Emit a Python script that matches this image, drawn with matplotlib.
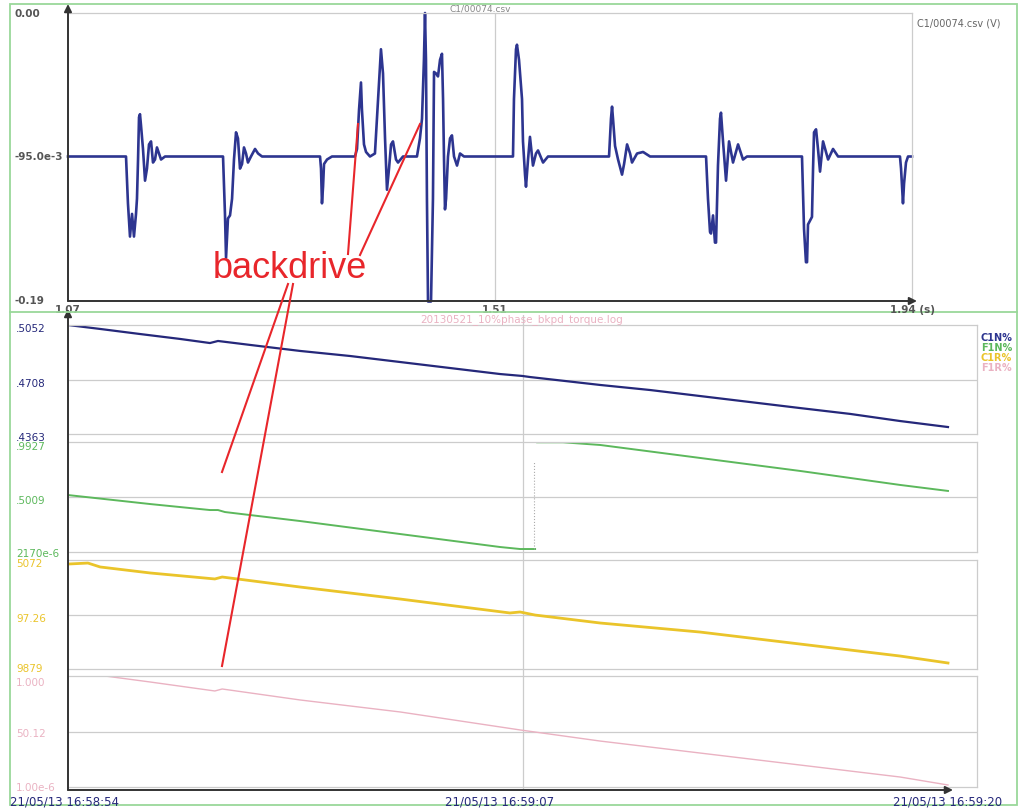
""" scope capture: backdrive on C1 with logged N% channels """

import matplotlib
matplotlib.use('Agg')
import matplotlib.pyplot as plt
from matplotlib import transforms
from matplotlib.lines import Line2D
from matplotlib.patches import Rectangle, FancyArrowPatch

# ---- top panel: C1/00074.csv (V) vs time (s) ----
sig_t = [1.0700,
         1.1298, 1.1318, 1.1339, 1.1360, 1.1380, 1.1401, 1.1411, 1.1422, 1.1432, 1.1442, 1.1452,
         1.1473, 1.1494, 1.1514, 1.1535, 1.1556, 1.1576, 1.1597, 1.1617, 1.1638, 1.1659, 1.1700,
         1.2298, 1.2318, 1.2329, 1.2349, 1.2370, 1.2391, 1.2411, 1.2432, 1.2452, 1.2473, 1.2494,
         1.2514, 1.2535, 1.2555, 1.2586, 1.2628, 1.2659, 1.2700,
         1.3298, 1.3308, 1.3318, 1.3329, 1.3339, 1.3370, 1.3421,
         1.3658, 1.3679, 1.3700, 1.3720, 1.3730, 1.3751, 1.3772, 1.3813, 1.3864, 1.3896, 1.3926,
         1.3947, 1.3968, 1.3988, 1.4009, 1.4030, 1.4050, 1.4081, 1.4102, 1.4153,
         1.4297, 1.4328, 1.4349, 1.4369, 1.4380, 1.4390, 1.4400, 1.4411, 1.4442, 1.4462, 1.4473,
         1.4493, 1.4514, 1.4535, 1.4555, 1.4566, 1.4576, 1.4586, 1.4597, 1.4617, 1.4638, 1.4658,
         1.4679, 1.4710, 1.4741, 1.4782,
         1.5287, 1.5297, 1.5318, 1.5328, 1.5349, 1.5369, 1.5380, 1.5390, 1.5411, 1.5421, 1.5442,
         1.5462, 1.5493, 1.5524, 1.5545, 1.5597, 1.5648,
         1.6277, 1.6297, 1.6308, 1.6318, 1.6339, 1.6370, 1.6411, 1.6432, 1.6463, 1.6494, 1.6514,
         1.6566, 1.6628, 1.6700,
         1.7277, 1.7297, 1.7318, 1.7328, 1.7349, 1.7369, 1.7380, 1.7400, 1.7421, 1.7431, 1.7452,
         1.7483, 1.7514, 1.7555, 1.7607, 1.7658, 1.7699,
         1.8266, 1.8287, 1.8307, 1.8318, 1.8328, 1.8369, 1.8380, 1.8390, 1.8411, 1.8431, 1.8452,
         1.8483, 1.8535, 1.8586, 1.8638, 1.8679,
         1.9276, 1.9287, 1.9307, 1.9318, 1.9338, 1.9359, 1.9400]
sig_v = [-0.095,
         -0.095, -0.126, -0.148, -0.133, -0.148, -0.133, -0.123, -0.097, -0.069, -0.067, -0.074,
         -0.090, -0.111, -0.103, -0.087, -0.085, -0.099, -0.097, -0.089, -0.093, -0.097, -0.095,
         -0.095, -0.133, -0.162, -0.136, -0.134, -0.123, -0.097, -0.079, -0.083, -0.103, -0.100,
         -0.089, -0.093, -0.099, -0.095, -0.090, -0.093, -0.095,
         -0.095, -0.103, -0.126, -0.115, -0.100, -0.097, -0.095,
         -0.095, -0.090, -0.064, -0.046, -0.064, -0.087, -0.092, -0.095, -0.093, -0.057, -0.024,
         -0.040, -0.083, -0.117, -0.103, -0.087, -0.085, -0.097, -0.099, -0.095,
         -0.095, -0.083, -0.070, -0.031, 0.000, -0.031, -0.123, -0.191, -0.191, -0.123, -0.039,
         -0.040, -0.042, -0.031, -0.027, -0.057, -0.097, -0.130, -0.123, -0.095, -0.083, -0.081,
         -0.095, -0.101, -0.093, -0.095,
         -0.095, -0.057, -0.024, -0.021, -0.031, -0.048, -0.057, -0.085, -0.107, -0.115, -0.097,
         -0.082, -0.101, -0.093, -0.091, -0.099, -0.095,
         -0.095, -0.070, -0.062, -0.070, -0.088, -0.097, -0.107, -0.100, -0.087, -0.093, -0.099,
         -0.093, -0.092, -0.095,
         -0.095, -0.123, -0.145, -0.146, -0.134, -0.152, -0.152, -0.101, -0.070, -0.066, -0.085,
         -0.111, -0.085, -0.099, -0.087, -0.097, -0.095,
         -0.095, -0.143, -0.165, -0.165, -0.140, -0.135, -0.103, -0.079, -0.077, -0.090, -0.105,
         -0.085, -0.097, -0.090, -0.095, -0.095,
         -0.095, -0.103, -0.126, -0.113, -0.099, -0.095, -0.095]
top_yticks = [0.0, -0.095, -0.19]
top_ylabels = ['0.00', '-95.0e-3', '-0.19']

# ---- bottom panel: logged channels, seconds after 21/05/13 16:58:54 ----
blue_t = [0.0, 0.92, 2.06, 3.20, 4.06, 4.29, 5.21, 6.64, 8.07, 9.50, 10.93, 12.36, 12.99,
          13.22, 15.22, 16.65, 18.08, 19.51, 20.94, 22.37, 23.80, 25.17]
blue_v = [0.5052, 0.5027, 0.4995, 0.4964, 0.4938, 0.4951, 0.4926, 0.4888, 0.4856, 0.4818,
          0.4780, 0.4742, 0.4730, 0.4723, 0.4673, 0.4641, 0.4603, 0.4565, 0.4527, 0.4490,
          0.4445, 0.4407]
green_t = [0.0, 2.35, 4.06, 4.29, 4.49, 6.64, 9.50, 12.36, 12.93, 13.36, float('nan'),
           13.42, 14.16, 15.22, 18.08, 20.94, 23.80, 25.17]
green_v = [0.515, 0.434, 0.380, 0.380, 0.362, 0.281, 0.164, 0.047, 0.029, 0.029, float('nan'),
           0.990, 0.990, 0.966, 0.849, 0.732, 0.606, 0.552]
wrap_t = [13.33, 13.33]
wrap_v = [0.029, 0.813]
yellow_t = [0.0, 0.57, 0.92, 2.35, 4.20, 4.41, 6.64, 9.50, 12.64, 12.93, 13.36, 15.22, 18.08,
            20.94, 23.80, 25.17]
yellow_v = [0.963, 0.972, 0.936, 0.881, 0.826, 0.844, 0.752, 0.642, 0.514, 0.523, 0.495,
            0.422, 0.339, 0.229, 0.119, 0.055]
pink_t = [0.0, 1.06, 2.35, 4.20, 4.41, 6.64, 9.50, 12.93, 15.22, 18.08, 20.94, 23.80, 25.17]
pink_v = [1.0, 1.0, 0.946, 0.865, 0.883, 0.784, 0.676, 0.514, 0.414, 0.306, 0.198, 0.090, 0.018]

blue_lim = (0.4363, 0.5052)
green_lim = (0.00217, 0.9927)
yellow_lim = (0.0, 1.0)
pink_lim = (0.0, 1.0)
blue_labels = ['.4363', '.4708', '.5052']
green_labels = ['2170e-6', '.5009', '.9927']
yellow_labels = ['9879', '97.26', '5072']
pink_labels = ['1.00e-6', '50.12', '1.000']
legend_names = ['C1N%', 'F1N%', 'C1R%', 'F1R%']
date_labels = ['21/05/13 16:58:54', '21/05/13 16:59:07', '21/05/13 16:59:20']

W, H = 1020, 812
NAVY = '#2d3590'
NAVY2 = '#25287a'
GREEN = '#5cb85c'
YELLOW = '#eac42a'
PINK = '#eab2c2'
GRID = '#cccccc'
RED = '#e8262b'
FRAME = '#9ad89a'
AXC = '#333333'
TXT = '#555555'


def box(x0, y0, x1, y1):
    return [x0 / W, 1 - y1 / H, (x1 - x0) / W, (y1 - y0) / H]


def arrow(fig, x0, y0, x1, y1):
    fig.add_artist(FancyArrowPatch(
        (x0 / W, 1 - y0 / H), (x1 / W, 1 - y1 / H), transform=fig.transFigure,
        arrowstyle='-|>', mutation_scale=11, color=AXC, lw=1.4, shrinkA=0, shrinkB=0))


plt.rcParams['font.family'] = ['DejaVu Sans']
fig = plt.figure(figsize=(W / 100, H / 100), dpi=100)
fig.patch.set_facecolor('white')

# green panel frame
fig.add_artist(Rectangle((10 / W, 1 - 806 / H), 1007 / W, 801 / H, transform=fig.transFigure,
                         fill=False, ec=FRAME, lw=1.3))
fig.add_artist(Line2D([10 / W, 1017 / W], [1 - 313 / H] * 2, transform=fig.transFigure,
                      color=FRAME, lw=1.3))

# ---- top panel ----
ax = fig.add_axes(box(68, 14, 912, 301))
ax.set_facecolor('none')
ax.axvline(1.51, color=GRID, lw=0.9)
ax.plot(sig_t, sig_v, color=NAVY, lw=1.9, solid_joinstyle='round', clip_on=False)
ax.set_xlim(1.07, 1.94)
ax.set_ylim(-0.19, 0.0)
ax.set_xticks([])
ax.set_yticks([])
for s in ['left', 'bottom']:
    ax.spines[s].set_visible(False)
for s in ['top', 'right']:
    ax.spines[s].set_color(GRID)
    ax.spines[s].set_linewidth(0.9)
arrow(fig, 68, 302, 68, 5)
arrow(fig, 68, 302, 917, 302)

ytr = transforms.blended_transform_factory(fig.transFigure, ax.transData)
for v, s in zip(top_yticks, top_ylabels):
    ax.text(15 / W, v, s, transform=ytr, ha='left', va='center', fontsize=7.5,
            color=TXT, fontweight='bold')
xtr = transforms.blended_transform_factory(ax.transData, fig.transFigure)
for v in [1.07, 1.51]:
    ax.text(v, 1 - 310 / H, f'{v:.2f}', transform=xtr, ha='center', va='center',
            fontsize=7.5, color=TXT, fontweight='bold')
fig.text(890 / W, 1 - 310 / H, '1.94 (s)', ha='left', va='center', fontsize=7.5,
         color=TXT, fontweight='bold')
fig.text(480 / W, 1 - 9 / H, 'C1/00074.csv', ha='center', va='center', fontsize=6.5,
         color='#888888')
fig.text(917 / W, 1 - 24 / H, 'C1/00074.csv (V)', ha='left', va='center', fontsize=7,
         color='#666666')

# ---- bottom panel ----
ov = fig.add_axes(box(68, 316, 977, 790))
ov.set_xlim(0, 26)
ov.axis('off')
ov.axvline(13, color=GRID, lw=0.9)

# label nudges (px downwards) for bottom / mid / top label of each strip
strips = [
    ((326, 435), blue_t, blue_v, blue_lim, blue_labels, NAVY2, 1.6, (3, 3, 3)),
    ((443, 553), green_t, green_v, green_lim, green_labels, GREEN, 1.4, (1, 3, 4)),
    ((561, 670), yellow_t, yellow_v, yellow_lim, yellow_labels, YELLOW, 2.0, (-1, 3, 3)),
    ((677, 788), pink_t, pink_v, pink_lim, pink_labels, PINK, 1.0, (0, 2, 6)),
]
for (y0, y1), t, v, lim, labels, col, lw, nudges in strips:
    sa = fig.add_axes(box(68, y0, 977, y1))
    sa.set_facecolor('none')
    sa.set_xlim(0, 26)
    sa.set_ylim(*lim)
    mid = (lim[0] + lim[1]) / 2
    sa.axhline(mid, color=GRID, lw=0.9)
    sa.plot(t, v, color=col, lw=lw, solid_joinstyle='round')
    if col == GREEN:
        sa.plot(wrap_t, wrap_v, color='#aaaaaa', lw=0.8, ls=':')
    sa.set_xticks([])
    sa.set_yticks([])
    sa.spines['left'].set_visible(False)
    for s in ['top', 'bottom', 'right']:
        sa.spines[s].set_color(GRID)
        sa.spines[s].set_linewidth(0.9)
    base = transforms.blended_transform_factory(fig.transFigure, sa.transData)
    for val, s, dy in zip([lim[0], mid, lim[1]], labels, nudges):
        ltr = transforms.offset_copy(base, fig=fig, y=-dy, units='dots')
        sa.text(16 / W, val, s, transform=ltr, ha='left', va='center', fontsize=7.5,
                color=col)

fig.text(522 / W, 1 - 320 / H, '20130521_10%phase_bkpd_torque.log', ha='center',
         va='center', fontsize=7.5, color=PINK)
for i, (name, col) in enumerate(zip(legend_names, [NAVY, GREEN, YELLOW, PINK])):
    fig.text(981 / W, 1 - (338 + 10 * i) / H, name, ha='left', va='center', fontsize=7,
             color=col, fontweight='bold')

arrow(fig, 68, 791, 68, 310)
arrow(fig, 68, 791, 953, 791)

fig.text(10 / W, 1 - 802 / H, date_labels[0], ha='left', va='center', fontsize=8.5, color=NAVY2)
fig.text(500 / W, 1 - 802 / H, date_labels[1], ha='center', va='center', fontsize=8.5,
         color=NAVY2)
fig.text(893 / W, 1 - 802 / H, date_labels[2], ha='left', va='center', fontsize=8.5,
         color=NAVY2)

# backdrive annotation
fig.text(213 / W, 1 - 278 / H, 'backdrive', ha='left', va='baseline', fontsize=26,
         color=RED, family='Liberation Sans')
for (xa, ya), (xb, yb) in [((348, 255), (358, 125)), ((360, 256), (420, 125)),
                           ((288, 285), (222, 473)), ((293, 285), (222, 667))]:
    fig.add_artist(Line2D([xa / W, xb / W], [1 - ya / H, 1 - yb / H],
                          transform=fig.transFigure, color=RED, lw=1.5))

fig.savefig('out.png', dpi=100)
